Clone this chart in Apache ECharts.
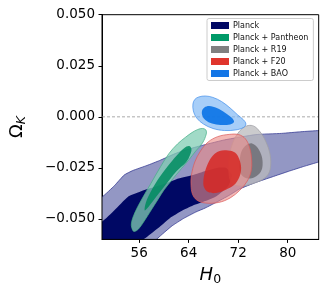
<!DOCTYPE html>
<html><head><meta charset="utf-8">
<script src="https://cdn.jsdelivr.net/npm/echarts@6/dist/echarts.min.js"></script>
<style>html,body{margin:0;padding:0;background:#fff}#c{width:333px;height:299px}</style>
</head><body><div id="c"></div>
<script>
// ---- data (H0, Omega_K) ----
const seriesNames = ['Planck', 'Planck + Pantheon', 'Planck + R19', 'Planck + F20', 'Planck + BAO'];
const xTicks = [56, 64, 72, 80];
const yTicks = [-0.05, -0.025, 0, 0.025, 0.05];
const zeroLine = [[50, 0], [85, 0]];

const planckOuter = [
  [48, -0.0405], [50, -0.0392], [52.04, -0.0336], [53.58, -0.0285], [54.97, -0.0263], [57.28, -0.0238],
  [59.29, -0.0214], [62.07, -0.0177], [65.15, -0.0148], [69.77, -0.0113], [74.86, -0.0087],
  [79.02, -0.0081], [82.11, -0.0073], [85.04, -0.0067], [87, -0.0064],
  [87, -0.0212], [85.04, -0.0221], [82.57, -0.0243], [80.10, -0.0267], [77.48, -0.0294], [74.86, -0.0321],
  [72.24, -0.0353], [70.39, -0.0387], [68.54, -0.0417], [66.69, -0.0446], [65.15, -0.0466],
  [63.14, -0.0498], [61.30, -0.0534], [59.75, -0.0574], [58.36, -0.0613], [57.6, -0.066], [48, -0.066]
];
const planckInner = [
  [48, -0.0525], [50, -0.0513], [52.04, -0.0456], [54.16, -0.0392], [56.21, -0.0366], [57.75, -0.0350],
  [60.21, -0.0326], [62.37, -0.0302], [64.69, -0.0285], [66.69, -0.0265], [68.54, -0.0250],
  [70.08, -0.0250], [71.01, -0.0285], [70.39, -0.0338], [68.54, -0.0387], [66.69, -0.0412],
  [64.69, -0.0434], [62.84, -0.0461], [60.99, -0.0495], [59.29, -0.0539], [57.44, -0.0583],
  [56.21, -0.0613], [55.5, -0.066], [48, -0.066]
];
const pantheonOuter = [
  [54.97, -0.0556], [54.74, -0.0524], [55.28, -0.0471], [56.36, -0.0407], [57.90, -0.0326],
  [59.44, -0.0245], [60.83, -0.0179], [62.22, -0.0132], [63.45, -0.0101], [64.53, -0.0077],
  [65.46, -0.0062], [66.23, -0.0057], [66.77, -0.0064], [66.84, -0.0084], [66.23, -0.0128],
  [65.15, -0.0167], [64.07, -0.0209], [62.84, -0.0253], [61.30, -0.0309], [60.01, -0.0358],
  [58.98, -0.0407], [57.95, -0.0456], [56.82, -0.0510], [55.90, -0.0549], [55.28, -0.0561]
];
const pantheonInner = [
  [56.90, -0.0458], [56.98, -0.0431], [57.44, -0.0392], [58.98, -0.0309], [60.52, -0.0245],
  [62.07, -0.0189], [63.30, -0.0152], [64.07, -0.0143], [64.45, -0.0157], [64.22, -0.0187],
  [63.61, -0.0221], [62.07, -0.0265], [60.06, -0.0341], [58.36, -0.0407], [57.28, -0.0449]
];
const r19Outer = [
  [70.54, -0.0285], [70.47, -0.0236], [70.70, -0.0172], [71.32, -0.0113], [72.24, -0.0069],
  [73.17, -0.0047], [74.09, -0.0042], [74.86, -0.0052], [75.79, -0.0084], [76.56, -0.0128],
  [77.10, -0.0177], [77.25, -0.0236], [76.87, -0.0280], [75.79, -0.0309], [74.40, -0.0326],
  [72.86, -0.0338], [71.47, -0.0334], [70.78, -0.0314]
];
const r19Inner = [
  [72.24, -0.0211], [72.55, -0.0167], [73.32, -0.0138], [74.24, -0.0130], [75.17, -0.0152],
  [75.79, -0.0192], [75.94, -0.0236], [75.63, -0.0270], [74.71, -0.0294], [73.47, -0.0302],
  [72.55, -0.0285], [72.16, -0.0250]
];
const f20Outer = [
  [64.38, -0.0334], [64.45, -0.0285], [64.99, -0.0221], [65.92, -0.0167], [67.15, -0.0123],
  [68.69, -0.0097], [70.54, -0.0086], [72.09, -0.0087], [73.17, -0.0108], [73.86, -0.0152],
  [74.17, -0.0211], [74.09, -0.0265], [73.47, -0.0314], [72.24, -0.0360], [70.70, -0.0397],
  [68.85, -0.0419], [66.69, -0.0422], [65.30, -0.0407], [64.61, -0.0378]
];
const f20Inner = [
  [66.38, -0.0309], [66.61, -0.0270], [67.15, -0.0226], [67.92, -0.0189], [69.00, -0.0167],
  [70.39, -0.0165], [71.47, -0.0175], [72.16, -0.0206], [72.47, -0.0250], [72.16, -0.0297],
  [71.32, -0.0334], [69.93, -0.0358], [68.39, -0.0373], [67.15, -0.0368], [66.46, -0.0343]
];
const baoOuter = [
  [64.69, 0.0063], [64.99, 0.0085], [65.61, 0.0097], [66.69, 0.0102], [67.92, 0.0095],
  [69.31, 0.0075], [70.70, 0.0043], [71.93, 0.0009], [72.86, -0.0015], [73.24, -0.0035],
  [72.86, -0.0052], [71.62, -0.0064], [69.77, -0.0067], [67.92, -0.0057], [66.38, -0.0035],
  [65.30, -0.0006], [64.76, 0.0029]
];
const baoInner = [
  [66.15, 0.0029], [66.54, 0.0046], [67.31, 0.0053], [68.54, 0.0043], [69.93, 0.0019],
  [71.01, -0.0006], [71.32, -0.0025], [70.70, -0.0037], [69.16, -0.0040], [67.77, -0.0033],
  [66.69, -0.0015], [66.23, 0.0004]
];

// ---- styles ----
const swatch = ['#000864', '#009a68', '#808080', '#e0352c', '#1476e6'];
const looks = [
  { polys: [planckOuter, planckInner], smooth: 0.15,
    styles: [{ fill: '#9397c4', stroke: '#3a3f96', lineWidth: 0.8 }, { fill: '#000864', stroke: null }] },
  { polys: [pantheonOuter, pantheonInner], smooth: 0.35,
    styles: [{ fill: 'rgba(130,205,180,0.75)', stroke: 'rgba(70,175,135,0.9)', lineWidth: 0.8 },
             { fill: 'rgba(0,140,95,0.85)', stroke: null }] },
  { polys: [r19Outer, r19Inner], smooth: 0.35,
    styles: [{ fill: 'rgba(185,185,188,0.75)', stroke: 'rgba(160,160,165,1)', lineWidth: 0.8 },
             { fill: 'rgba(110,110,118,0.85)', stroke: null }] },
  { polys: [f20Outer, f20Inner], smooth: 0.35,
    styles: [{ fill: 'rgba(235,140,135,0.62)', stroke: 'rgba(220,90,90,0.9)', lineWidth: 0.8 },
             { fill: 'rgba(215,40,35,0.85)', stroke: null }] },
  { polys: [baoOuter, baoInner], smooth: 0.35,
    styles: [{ fill: 'rgba(120,180,245,0.65)', stroke: 'rgba(70,145,235,0.9)', lineWidth: 0.8 },
             { fill: 'rgba(10,115,230,0.9)', stroke: null }] }
];

const chart = echarts.init(document.getElementById('c'), null, { renderer: 'canvas' });
const FONT = 'DejaVu Sans';

const series = [{
  type: 'line', data: zeroLine, symbol: 'none', silent: true, z: 1,
  lineStyle: { color: '#aaaaaa', width: 1, type: [3, 2] }
}];
looks.forEach((lk, si) => {
  series.push({
    type: 'custom', name: seriesNames[si], clip: true, z: 2 + si,
    itemStyle: { color: swatch[si] },
    data: lk.polys.map((p, k) => [p[0][0], p[0][1], k]),
    renderItem: function (params, api) {
      const poly = lk.polys[params.dataIndex];
      const pts = poly.map(p => api.coord(p));
      return { type: 'polygon', shape: { points: pts, smooth: lk.smooth },
               style: lk.styles[params.dataIndex] };
    }
  });
});

chart.setOption({
  animation: false,
  backgroundColor: '#fff',
  grid: { left: 92, right: 14.3, top: 14.7, bottom: 59.6, show: true, borderColor: '#000', borderWidth: 1, backgroundColor: 'transparent', z: 10 },
  legend: {
    data: seriesNames.map(n => ({ name: n, icon: 'rect' })),
    orient: 'vertical', left: 207, top: 18.5, itemWidth: 18, itemHeight: 7, itemGap: 4,
    padding: [3, 5, 3, 4], borderColor: '#cccccc', borderWidth: 1, borderRadius: 2,
    backgroundColor: 'rgba(255,255,255,0.85)', z: 20,
    textStyle: { fontFamily: FONT, fontSize: 8, color: '#111', padding: [0, 0, 0, -1] }
  },
  xAxis: {
    type: 'value', min: 50, max: 85,
    axisLine: { show: true, onZero: false, lineStyle: { color: '#000', width: 1 } },
    axisTick: { show: true, customValues: xTicks, length: 3.5, lineStyle: { color: '#000' } },
    axisLabel: { customValues: xTicks, fontSize: 13.5, color: '#000', margin: 7, fontFamily: FONT },
    splitLine: { show: false },
    name: '{i|H}{s|0}', nameLocation: 'middle', nameGap: 25,
    nameTextStyle: { rich: {
      i: { fontFamily: FONT, fontStyle: 'italic', fontSize: 18, color: '#000' },
      s: { fontFamily: FONT, fontSize: 12.5, color: '#000', padding: [9, 0, 0, 0] }
    } }
  },
  yAxis: {
    type: 'value', min: -0.06, max: 0.05,
    axisLine: { show: true, onZero: false, lineStyle: { color: '#000', width: 1 } },
    axisTick: { show: true, customValues: yTicks, length: 3.5, lineStyle: { color: '#000' } },
    axisLabel: { customValues: yTicks, fontSize: 13.5, color: '#000', margin: 7, fontFamily: FONT,
      formatter: v => (v < -1e-9 ? '\u2212' : '') + Math.abs(v).toFixed(3) },
    splitLine: { show: false },
    name: '{o|Ω}{s|K}', nameLocation: 'middle', nameGap: 74, nameRotate: 90,
    nameTextStyle: { rich: {
      o: { fontFamily: FONT, fontSize: 18, color: '#000' },
      s: { fontFamily: FONT, fontStyle: 'italic', fontSize: 12.5, color: '#000', padding: [9, 0, 0, 0] }
    } }
  },
  series: series
});
</script>
</body></html>
